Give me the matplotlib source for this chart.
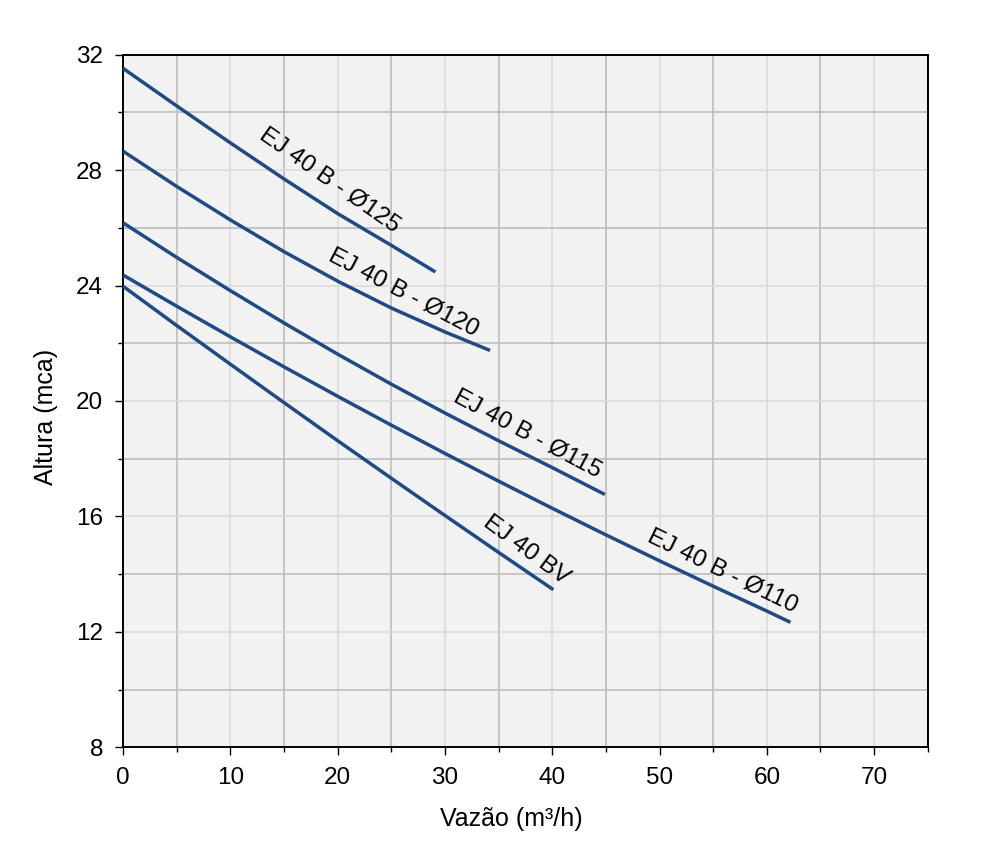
import numpy as np
import matplotlib
matplotlib.use('Agg')
import matplotlib.pyplot as plt
from matplotlib.ticker import MultipleLocator

plt.rcParams['font.family'] = ['Liberation Sans', 'DejaVu Sans']

# vazão (m3/h) and altura (mca)
q_125 = [0, 5, 10, 15, 20, 25, 29.1]
h_125 = [31.52, 30.22, 28.94, 27.69, 26.49, 25.39, 24.47]

q_120 = [0, 5, 10, 15, 20, 25, 30, 34.2]
h_120 = [28.65, 27.43, 26.27, 25.17, 24.15, 23.22, 22.39, 21.75]

q_115 = [0, 5, 10, 15, 20, 25, 30, 35, 40, 44.9]
h_115 = [26.17, 24.97, 23.82, 22.70, 21.62, 20.58, 19.58, 18.62, 17.69, 16.76]

q_110 = [0, 5, 10, 15, 20, 25, 30, 35, 40, 45, 50, 55, 60, 62.2]
h_110 = [24.36, 23.28, 22.22, 21.18, 20.16, 19.16, 18.18, 17.22, 16.28, 15.36, 14.46, 13.58, 12.72, 12.33]

q_bv = [0, 5, 10, 15, 20, 25, 30, 35, 40.1]
h_bv = [23.97, 22.61, 21.27, 19.94, 18.62, 17.32, 16.03, 14.75, 13.46]

curves = [
    (q_125, h_125, 'EJ 40 B - Ø125', (19.2, 27.65), -35),
    (q_120, h_120, 'EJ 40 B - Ø120', (26.15, 23.77), -27.5),
    (q_115, h_115, 'EJ 40 B - Ø115', (37.7, 18.87), -28),
    (q_110, h_110, 'EJ 40 B - Ø110', (55.9, 14.09), -26),
    (q_bv, h_bv, 'EJ 40 BV', (37.55, 14.82), -36.5),
]

line_color = '#1f4a84'

fig = plt.figure(figsize=(9.81, 8.63), dpi=100)
ax = fig.add_axes([0.1256, 0.1341, 0.8201, 0.8026])
ax.set_facecolor('#f2f2f2')

for q, h, label, pos, rot in curves:
    ax.plot(q, h, color=line_color, lw=2.5, solid_capstyle='butt', zorder=3)
    ax.text(pos[0], pos[1], label, rotation=rot, ha='center', va='center',
            fontsize=17.5, color='black', zorder=4)

ax.set_xlim(0, 75)
ax.set_ylim(8, 32)
ax.xaxis.set_major_locator(MultipleLocator(10))
ax.xaxis.set_minor_locator(MultipleLocator(5))
ax.yaxis.set_major_locator(MultipleLocator(4))
ax.yaxis.set_minor_locator(MultipleLocator(2))

# the odd (minor) grid lines are drawn darker than the labelled ones
ax.grid(which='major', color='#dadada', lw=1.1, zorder=0)
ax.grid(which='minor', color='#bdbdbd', lw=1.2, zorder=0)
ax.set_axisbelow(True)

ax.tick_params(which='major', length=5.5, width=1, direction='out',
               labelsize=17.5, pad=9)
ax.tick_params(which='minor', length=3.8, width=1, direction='out')

for s in ax.spines.values():
    s.set_linewidth(1.4)
    s.set_color('black')

ax.set_xlabel('Vazão (m³/h)', fontsize=18)
ax.set_ylabel('Altura (mca)', fontsize=18)
ax.xaxis.set_label_coords(0.483, -0.086)
ax.yaxis.set_label_coords(-0.081, 0.4776)

fig.savefig('out.png', dpi=100)
